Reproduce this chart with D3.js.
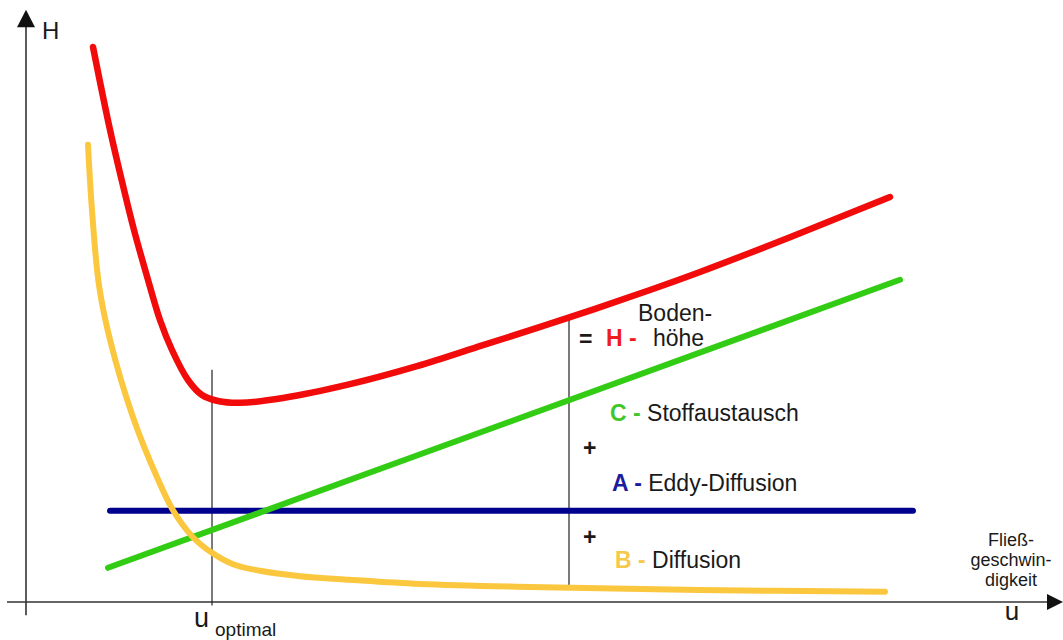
<!DOCTYPE html>
<html>
<head>
<meta charset="utf-8">
<script src="https://cdn.jsdelivr.net/npm/d3@7"></script>
<style>
  html, body { margin: 0; padding: 0; background: #fff; }
  svg { display: block; font-family: "Liberation Sans", Arial, sans-serif; }
</style>
</head>
<body>
<svg id="chart" width="1063" height="640"></svg>
<script>
// Data (u = flow velocity, H = plate height)
const redU    = [6.7, 8.4, 9.8, 10.8, 12.2, 13.4, 14.6, 16.2, 17.6, 19.2, 21.4, 25.7, 32.4, 39.1, 45.7, 54.1, 62.4, 67.4, 76.4, 86.4];
const redH    = [92.5, 78.7, 68.7, 62, 53.7, 47, 42, 37, 34.5, 33.5, 33.2, 34, 36.3, 39.3, 42.8, 47.3, 52, 55, 60.8, 67.5];
const yellowU = [6.2, 6.6, 7.3, 8.4, 10.7, 13.1, 14.7, 16.7, 18.6, 20.7, 23.4, 27.4, 32.4, 39.4, 50.4, 67.4, 85.9];
const yellowH = [76.2, 65.3, 52.8, 43.7, 30.8, 20.8, 15.3, 10.8, 8.2, 6.3, 5.2, 4.3, 3.7, 3.0, 2.5, 2.0, 1.7];
const greenU  = [8.2, 87.4];
const greenH  = [5.7, 53.7];
const blueU   = [8.4, 88.7];
const blueH   = [15.2, 15.2];
const uOptimal = 18.6, uOptTop = 38.7;
const uMark = 54.3, uMarkTop = 47.3, uMarkBottom = 2.7;

const svg = d3.select("#chart");
const x = d3.scaleLinear().domain([0, 100]).range([26, 1026]);
const y = d3.scaleLinear().domain([0, 100]).range([602, 2]);

const axisCol = "#333";
// axes
svg.append("line").attr("x1", x(0)).attr("x2", x(0)).attr("y1", y(-2.2)).attr("y2", y(96))
  .attr("stroke", axisCol).attr("stroke-width", 1.6);
svg.append("path").attr("d", `M${x(0)},${y(98.7)} L${x(0)-9},${y(95.8)} L${x(0)+9},${y(95.8)} Z`).attr("fill", "#111");
svg.append("line").attr("x1", x(-1.9)).attr("x2", x(102.5)).attr("y1", y(0)).attr("y2", y(0))
  .attr("stroke", axisCol).attr("stroke-width", 1.6);
svg.append("path").attr("d", `M${x(103.7)},${y(0)} L${x(102.1)},${y(0)-8} L${x(102.1)},${y(0)+8} Z`).attr("fill", "#111");

// vertical markers
svg.append("line").attr("x1", x(uOptimal)).attr("x2", x(uOptimal)).attr("y1", y(uOptTop)).attr("y2", y(-0.6))
  .attr("stroke", "#222").attr("stroke-width", 1.2);
svg.append("line").attr("x1", x(uMark)).attr("x2", x(uMark)).attr("y1", y(uMarkTop)).attr("y2", y(uMarkBottom))
  .attr("stroke", "#222").attr("stroke-width", 1.2);

function series(us, hs, color, width, curve) {
  const pts = us.map((u, i) => [u, hs[i]]);
  const line = d3.line().x(d => x(d[0])).y(d => y(d[1])).curve(curve);
  svg.append("path").attr("d", line(pts)).attr("fill", "none")
    .attr("stroke", color).attr("stroke-width", width)
    .attr("stroke-linecap", "round").attr("stroke-linejoin", "round");
}
const smooth = d3.curveCatmullRom.alpha(0.5);
series(blueU, blueH, "#00008f", 6, d3.curveLinear);
series(greenU, greenH, "#33cc14", 6, d3.curveLinear);
series(yellowU, yellowH, "#fbc73e", 6, smooth);
series(redU, redH, "#f20b0b", 6.5, smooth);

// labels
const txt = (xx, yy, s, opts = {}) => {
  const t = svg.append("text").attr("x", xx).attr("y", yy)
    .attr("font-size", opts.size || 23).attr("fill", opts.fill || "#1a1a1a")
    .attr("font-weight", opts.weight || "normal")
    .attr("text-anchor", opts.anchor || "start").text(s);
  return t;
};
txt(42, 39, "H", { size: 24 });
txt(194, 627, "u", { size: 27 });
txt(215, 636, "optimal", { size: 19 });

const cRed = "#ee1c1c", cGreen = "#3fc62a", cBlue = "#1c1c9e", cYel = "#f6c94a";
txt(638, 321, "Boden-");
txt(579, 347, "=", { weight: "bold" });
txt(606, 346, "H -", { fill: cRed, weight: "bold" });
txt(653, 346, "höhe");

const lab = (xx, yy, letter, col, rest) => {
  const t = svg.append("text").attr("x", xx).attr("y", yy).attr("font-size", 23);
  t.append("tspan").attr("fill", col).attr("font-weight", "bold").text(letter + " - ");
  t.append("tspan").attr("fill", "#1a1a1a").text(rest);
};
lab(610, 421, "C", cGreen, "Stoffaustausch");
txt(583, 456, "+", { weight: "bold" });
lab(612, 491, "A", cBlue, "Eddy-Diffusion");
txt(583, 545, "+", { weight: "bold" });
lab(615, 568, "B", cYel, "Diffusion");

txt(1011, 546, "Fließ-", { size: 18, anchor: "middle" });
txt(1011, 566, "geschwin-", { size: 18, anchor: "middle" });
txt(1011, 586, "digkeit", { size: 18, anchor: "middle" });
txt(1012, 620, "u", { size: 26, anchor: "middle" });
</script>
</body>
</html>
